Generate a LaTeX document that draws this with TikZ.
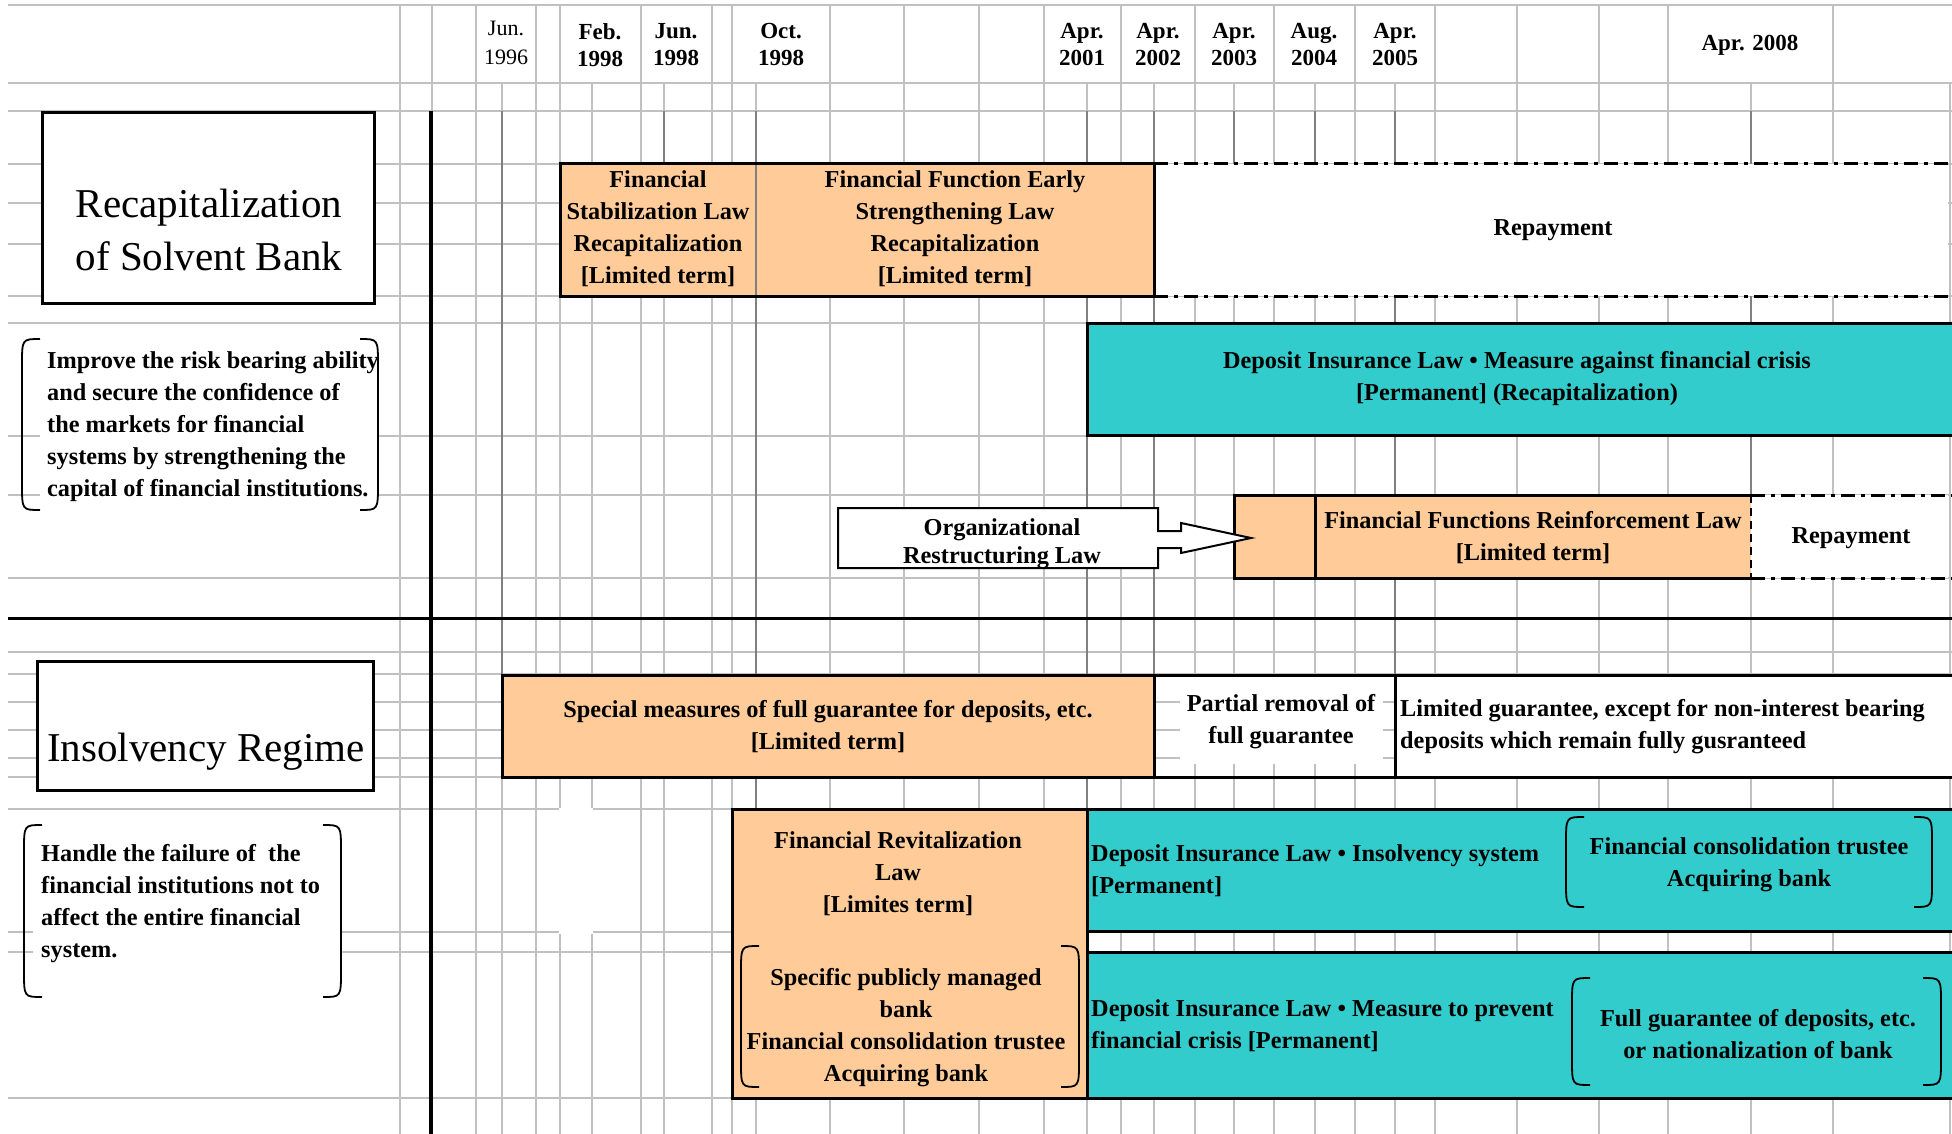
\documentclass[tikz,border=0pt]{standalone}
\usepackage{fontspec}
\setmainfont{Liberation Serif}
\definecolor{barorange}{HTML}{FFCC99}
\definecolor{barcyan}{HTML}{33CCCC}
\definecolor{gridgray}{HTML}{C0C0C0}
\definecolor{linegray}{HTML}{808080}
\tikzset{
  gridline/.style={draw=gridgray, line width=2pt},
  timeline/.style={draw=linegray, line width=2.5pt},
  barline/.style={draw=black, line width=3pt},
  payline/.style={draw=black, line width=3pt, dash pattern=on 14pt off 6pt on 4pt off 6pt},
  brk/.style={draw=black, line width=1.8pt},
  lbl/.style={font=\fontsize{24.3}{32}\selectfont\bfseries, align=center, inner sep=0pt},
  lblleft/.style={lbl, align=left, anchor=west},
  hdr/.style={font=\fontsize{23}{27}\selectfont\bfseries, align=center, inner sep=0pt},
  sectitle/.style={font=\fontsize{41}{53}\selectfont, align=center, inner sep=0pt},
}
\begin{document}
\begin{tikzpicture}[x=1pt, y=-1pt]
  \useasboundingbox (0,0) rectangle (1952,1134);
  \fill[white] (0,0) rectangle (1952,1134);

  % Sheet grid
  \foreach \y in {5,83,111,164,203,244,296,323,436,495,578,652,674,702,730,758,777,809,932,952,1098}
    \draw[gridline] (8,\y) -- (1952,\y);
  \foreach \x in {400,432,476,536,560,641,712,732,830,904,979,1044,1121,1195,1274,1355,1435,1517,1599,1668,1833}
    \draw[gridline] (\x,5) -- (\x,83);
  \foreach \x in {400,432,476,502,536,560,592,641,664,712,732,756,830,904,979,1044,1087,1121,1154,1195,1234,1274,1315,1355,1395,1435,1517,1599,1668,1751,1833,1950}
    \draw[gridline] (\x,83) -- (\x,1134);

  % Blank cells
  \fill[white] (40,339) rectangle (378,510);
  \fill[white] (33,825) rectangle (341,997);
  \fill[white] (559,807.5) rectangle (593,933.5);
  \fill[white] (1180,677) rectangle (1383,764);

  % Date markers
  \foreach \x/\y in {502/674, 664/164, 756/809, 1087/809, 1154/675, 1234/164, 1315/164, 1395/675, 1751/495}
    \draw[timeline] (\x,111) -- (\x,\y);

  % Dividers
  \draw[black, line width=4pt] (431,111) -- (431,1134);
  \draw[black, line width=3pt] (8,618) -- (1952,618);

  % Header
  \node[hdr, font=\fontsize{22}{29}\selectfont] (jun96) at (506,43) {Jun.\\1996};
  \node[hdr] (feb98) at (600,45) {Feb.\\1998};
  \node[hdr] (jun98) at (676,45) {Jun.\\1998};
  \node[hdr] (oct98) at (781,45) {Oct.\\1998};
  \node[hdr] (apr01) at (1082,45) {Apr.\\2001};
  \node[hdr] (apr02) at (1158,45) {Apr.\\2002};
  \node[hdr] (apr03) at (1234,45) {Apr.\\2003};
  \node[hdr] (aug04) at (1314,45) {Aug.\\2004};
  \node[hdr] (apr05) at (1395,45) {Apr.\\2005};
  \node[hdr] (apr08) at (1750,45) {Apr. 2008};

  % Left column
  \draw[barline, fill=white] (42,113) rectangle (374,303);
  \node[sectitle] (recapname) at (209,230) {Recapitalization\\of Solvent Bank};
  \draw[barline, fill=white] (37,661) rectangle (373,790);
  \node[sectitle] (insolname) at (206,752) {Insolvency Regime};

  % Recapitalization bars
  \fill[white] (1154,164) rectangle (1948,296);
  \draw[payline] (1154,164) -- (1956,164);
  \draw[payline] (1154,296) -- (1956,296);
  \draw[barline, fill=barorange] (560,164) rectangle (1154,296);
  \draw[timeline] (756,165) -- (756,295);
  \draw[barline, fill=barcyan] (1087,323) rectangle (1958,435);

  \fill[white] (1751,495) rectangle (1948,578);
  \draw[payline] (1751,495) -- (1956,495);
  \draw[payline] (1751,578) -- (1956,578);
  \fill[barorange] (1234,495) rectangle (1751,578);
  \draw[barline] (1751,495) -- (1234,495) -- (1234,578) -- (1751,578);
  \draw[barline] (1315,495) -- (1315,578);
  \draw[black, line width=2pt, dash pattern=on 8pt off 5pt] (1751,495) -- (1751,578);

  % Arrow box
  \draw[black, line width=2pt, fill=white] (838,508) -- (1158,508) -- (1158,531) -- (1181,531)
    -- (1181,523) -- (1251,538) -- (1181,553) -- (1181,548) -- (1158,548) -- (1158,568) -- (838,568) -- cycle;

  % Insolvency bars
  \draw[barline, fill=barorange] (502,675) rectangle (1154,777);
  \draw[barline] (1154,675) rectangle (1395,777);
  \draw[barline, fill=white] (1395,675) rectangle (1958,777);
  \draw[barline, fill=barorange] (732,809) rectangle (1087,1098);
  \draw[barline, fill=barcyan] (1087,809) rectangle (1958,931);
  \draw[barline, fill=barcyan] (1087,952) rectangle (1958,1098);

  % Brackets
  \foreach \xa/\ya/\xb/\yb in {22/339/378/510, 24/825/341/997, 741/946/1079/1087, 1566/817/1932/907, 1572/978/1941/1085} {
    \draw[brk] ({\xa+18},\ya) .. controls (\xa,\ya) .. (\xa,{\ya+26}) -- (\xa,{\yb-26}) .. controls (\xa,\yb) .. ({\xa+18},\yb);
    \draw[brk] ({\xb-18},\ya) .. controls (\xb,\ya) .. (\xb,{\ya+26}) -- (\xb,{\yb-26}) .. controls (\xb,\yb) .. ({\xb-18},\yb);
  }

  % Texts
  \node[lblleft] (recapaim) at (47,427) {Improve the risk bearing ability\\and secure the confidence of\\the markets for financial\\systems by strengthening the\\capital of financial institutions.};
  \node[lblleft] (insolaim) at (41,904) {Handle the failure of \ the\\financial institutions not to\\affect the entire financial\\system.};
  \node[lbl] (stablaw) at (658,229) {Financial\\Stabilization Law\\Recapitalization\\{[Limited term]}};
  \node[lbl] (earlylaw) at (955,229) {Financial Function Early\\Strengthening Law\\Recapitalization\\{[Limited term]}};
  \node[lbl] (repayfirst) at (1553,230) {Repayment};
  \node[lbl] (dilrecap) at (1517,379) {Deposit Insurance Law • Measure against financial crisis\\{[Permanent] (Recapitalization)}};
  \node[lbl, font=\fontsize{24.3}{28}\selectfont\bfseries] (orglaw) at (1002,544) {Organizational\\Restructuring Law};
  \node[lbl] (ffrl) at (1533,538) {Financial Functions Reinforcement Law\\{[Limited term]}};
  \node[lbl] (repaysecond) at (1851,538) {Repayment};
  \node[lbl] (special) at (828,727) {Special measures of full guarantee for deposits, etc.\\{[Limited term]}};
  \node[lbl] (partial) at (1281,722) {Partial removal of\\full guarantee};
  \node[lblleft] (limited) at (1400,727) {Limited guarantee, except for non-interest bearing\\deposits which remain fully gusranteed};
  \node[lbl] (revital) at (898,874) {Financial Revitalization\\Law\\{[Limites term]}};
  \node[lbl] (publicbank) at (906,1028) {Specific publicly managed\\bank\\Financial consolidation trustee\\Acquiring bank};
  \node[lblleft] (dilinsol) at (1091,871) {Deposit Insurance Law • Insolvency system\\{[Permanent]}};
  \node[lbl] (trustee) at (1749,865) {Financial consolidation trustee\\Acquiring bank};
  \node[lblleft] (dilprevent) at (1091,1026) {Deposit Insurance Law • Measure to prevent\\financial crisis [Permanent]};
  \node[lbl] (fullguar) at (1758,1034) {Full guarantee of deposits, etc.\\or nationalization of bank};
\end{tikzpicture}
\end{document}
